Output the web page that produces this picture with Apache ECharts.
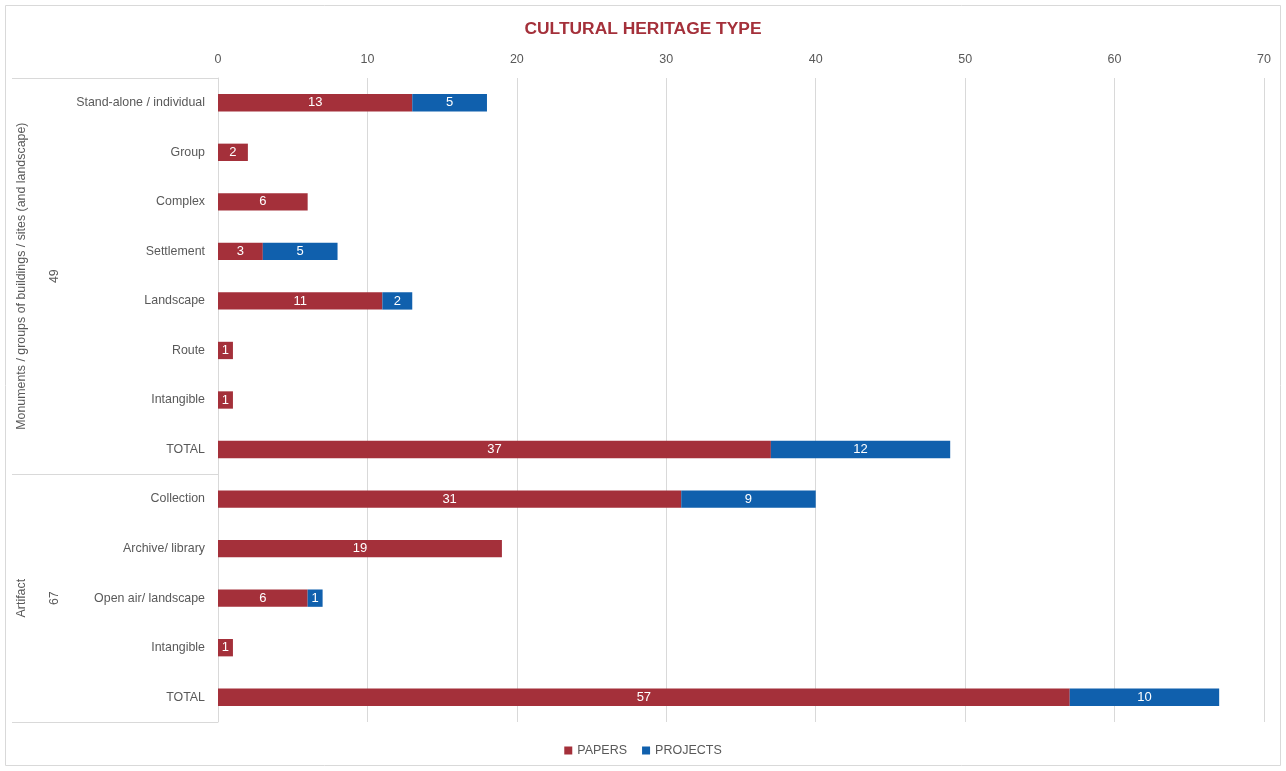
<!DOCTYPE html>
<html>
<head>
<meta charset="utf-8">
<script src="https://cdn.jsdelivr.net/npm/echarts@6/dist/echarts.min.js"></script>
<style>
  html, body { margin: 0; padding: 0; background: #fff; }
  #chart { width: 1286px; height: 771px; }
</style>
</head>
<body>
<div id="chart"></div>
<script>
const categories = [
  'Stand-alone / individual', 'Group', 'Complex', 'Settlement', 'Landscape', 'Route', 'Intangible', 'TOTAL',
  'Collection', 'Archive/ library', 'Open air/ landscape', 'Intangible', 'TOTAL'
]
const papers = [13, 2, 6, 3, 11, 1, 1, 37, 31, 19, 6, 1, 57]
const projects = [5, 0, 0, 5, 2, 0, 0, 12, 9, 0, 1, 0, 10]
const groups = [
  { name: 'Monuments / groups of buildings / sites (and landscape)', total: '49', count: 8 },
  { name: 'Artifact', total: '67', count: 5 }
]

const font = '"Liberation Sans", Arial, sans-serif'
const textColor = '#595959'
const lineColor = '#d9d9d9'

const gridTop = 78
const gridBottom = 722
const gridLeft = 218
const rowH = (gridBottom - gridTop) / categories.length

const chart = echarts.init(document.getElementById('chart'))

// group labels and the box lines on the left
const graphics = [
  { type: 'rect', shape: { x: 5.5, y: 5.5, width: 1275, height: 760 }, style: { fill: 'none', stroke: lineColor, lineWidth: 1 } },
  { type: 'line', shape: { x1: 12, y1: gridTop + 0.5, x2: gridLeft, y2: gridTop + 0.5 }, style: { stroke: lineColor, lineWidth: 1 } }
]
let start = 0
groups.forEach(g => {
  const y0 = gridTop + start * rowH
  const y1 = gridTop + (start + g.count) * rowH
  const mid = (y0 + y1) / 2
  graphics.push({ type: 'line', shape: { x1: 12, y1: Math.round(y1) + 0.5, x2: gridLeft, y2: Math.round(y1) + 0.5 }, style: { stroke: lineColor, lineWidth: 1 } })
  graphics.push({
    type: 'text', x: 22, y: mid, rotation: Math.PI / 2,
    style: { text: g.name, font: '12.4px ' + font, fill: textColor, align: 'center', verticalAlign: 'middle' }
  })
  graphics.push({
    type: 'text', x: 55, y: mid, rotation: Math.PI / 2,
    style: { text: g.total, font: '12.4px ' + font, fill: textColor, align: 'center', verticalAlign: 'middle' }
  })
  start += g.count
})

const barLabel = {
  show: true,
  color: '#fff',
  fontFamily: font,
  fontSize: 13,
  formatter: p => (p.value ? p.value : '')
}

chart.setOption({
  animation: false,
  title: {
    text: 'CULTURAL HERITAGE TYPE',
    left: 'center',
    top: 16,
    textStyle: { color: '#a4303a', fontFamily: font, fontSize: 17.4, fontWeight: 'bold' }
  },
  legend: {
    bottom: 9,
    itemWidth: 8,
    itemHeight: 8,
    itemGap: 15,
    icon: 'rect',
    textStyle: { color: textColor, fontFamily: font, fontSize: 12.5 },
    data: ['PAPERS', 'PROJECTS']
  },
  grid: { left: gridLeft, right: 22, top: gridTop, bottom: 771 - gridBottom },
  xAxis: {
    type: 'value',
    position: 'top',
    min: 0,
    max: 70,
    interval: 10,
    axisLine: { show: false },
    axisTick: { show: false },
    axisLabel: { color: textColor, fontFamily: font, fontSize: 12.5, margin: 12 },
    splitLine: { lineStyle: { color: lineColor } }
  },
  yAxis: {
    type: 'category',
    inverse: true,
    data: categories,
    axisLine: { lineStyle: { color: lineColor } },
    axisTick: { show: false },
    axisLabel: { color: textColor, fontFamily: font, fontSize: 12.4, margin: 13 }
  },
  series: [
    {
      name: 'PAPERS',
      type: 'bar',
      stack: 'all',
      barWidth: '35%',
      itemStyle: { color: '#a4303a' },
      label: barLabel,
      data: papers
    },
    {
      name: 'PROJECTS',
      type: 'bar',
      stack: 'all',
      barWidth: '35%',
      itemStyle: { color: '#1060ad' },
      label: barLabel,
      data: projects
    }
  ],
  graphic: graphics
})
</script>
</body>
</html>
